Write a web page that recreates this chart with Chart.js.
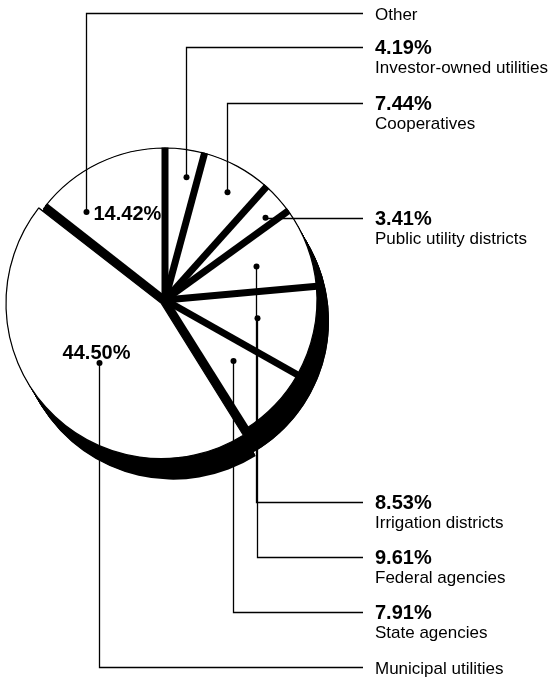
<!DOCTYPE html>
<html>
<head>
<meta charset="utf-8">
<title>Ownership shares</title>
<script src="https://cdn.jsdelivr.net/npm/chart.js@4.4.1/dist/chart.umd.min.js"></script>
<style>
  html, body { margin: 0; padding: 0; background: #fff; }
  canvas { display: block; }
</style>
</head>
<body>
<canvas id="ownershipChart" width="553" height="679"></canvas>
<script>
// slices, clockwise from twelve o'clock
const categories = [
  "Investor-owned utilities",
  "Cooperatives",
  "Public utility districts",
  "Irrigation districts",
  "Federal agencies",
  "State agencies",
  "Municipal utilities",
  "Other"
];
const shares = [4.19, 7.44, 3.41, 8.53, 9.61, 7.91, 44.50, 14.42];

// which slices carry their percent beside the pie instead of in the callout
const inlinePercent = [false, false, false, false, false, false, true, true];

// callout layout: y of each leader's horizontal run, and where its dot sits
// inside the slice as [fraction of the sweep, fraction of the radius]
const leaderY = [47, 103, 218, 502, 557, 612, 667, 13];
const dotSpot = [
  [0.65, 0.82], [0.56, 0.82], [0.70, 0.85], [0.51, 0.64],
  [0.47, 0.62], [0.44, 0.60], [0.49, 0.57], [0.19, 0.78]
];
const explode = [0, 0, 0, 0, 0, 0, 5, 0];

const FONT = '"Liberation Sans", Arial, Helvetica, sans-serif';
const depth = { x: 12, y: 21 };   // how far the pie's body drops behind the faces
const labelX = 375;
const leaderEnd = 363;

function sliceShift(arc) {
  const off = (arc.options.offset || 0) / 4;
  const mid = (arc.startAngle + arc.endAngle) / 2;
  const fix = 1 - Math.sin(Math.min(Math.PI, arc.circumference));
  return { x: Math.cos(mid) * off, y: Math.sin(mid) * off, r: arc.outerRadius + off * fix };
}

// black body of the pie: the whole disc plus each slice, swept down-right
const pieDepth = {
  id: "pieDepth",
  beforeDatasetsDraw(chart) {
    const ctx = chart.ctx;
    const arcs = chart.getDatasetMeta(0).data;
    if (!arcs.length) return;
    ctx.save();
    ctx.fillStyle = "#000";
    const base = arcs[0];
    for (let t = 0; t <= 1.0001; t += 1 / 24) {
      ctx.beginPath();
      ctx.arc(base.x + depth.x * t, base.y + depth.y * t, base.outerRadius, 0, Math.PI * 2);
      ctx.fill();
    }
    arcs.forEach(arc => {
      const s = sliceShift(arc);
      for (let t = 0; t <= 1.0001; t += 1 / 24) {
        const cx = arc.x + s.x + depth.x * t;
        const cy = arc.y + s.y + depth.y * t;
        ctx.beginPath();
        ctx.moveTo(cx, cy);
        ctx.arc(cx, cy, s.r, arc.startAngle, arc.endAngle);
        ctx.closePath();
        ctx.fill();
      }
    });
    ctx.restore();
  }
};

// heavy rules between slices, then the leaders and labels
const callouts = {
  id: "callouts",
  afterDatasetsDraw(chart) {
    const ctx = chart.ctx;
    const arcs = chart.getDatasetMeta(0).data;
    ctx.save();

    ctx.strokeStyle = "#000";
    ctx.lineWidth = 7;
    ctx.lineCap = "butt";
    arcs.forEach(arc => {
      ctx.beginPath();
      ctx.moveTo(arc.x, arc.y);
      ctx.lineTo(arc.x + Math.cos(arc.startAngle) * (arc.outerRadius + 0.5),
                 arc.y + Math.sin(arc.startAngle) * (arc.outerRadius + 0.5));
      ctx.stroke();
    });

    arcs.forEach((arc, i) => {
      const s = sliceShift(arc);
      const a = arc.startAngle + dotSpot[i][0] * (arc.endAngle - arc.startAngle);
      const px = Math.round(arc.x + s.x + Math.cos(a) * dotSpot[i][1] * arc.outerRadius) + 0.5;
      const py = arc.y + s.y + Math.sin(a) * dotSpot[i][1] * arc.outerRadius;
      const ly = leaderY[i] + 0.5;

      ctx.lineWidth = 1.3;
      ctx.beginPath();
      ctx.moveTo(px, py);
      ctx.lineTo(px, ly);
      ctx.lineTo(leaderEnd, ly);
      ctx.stroke();

      ctx.fillStyle = "#000";
      ctx.beginPath();
      ctx.arc(px, py, 3, 0, Math.PI * 2);
      ctx.fill();

      const pct = shares[i].toFixed(2) + "%";
      ctx.textAlign = "left";
      ctx.textBaseline = "alphabetic";
      if (inlinePercent[i]) {
        ctx.font = "bold 20px " + FONT;
        if (py < arc.y) {
          ctx.fillText(pct, px + 7, py + 8);
        } else {
          ctx.textAlign = "center";
          ctx.fillText(pct, px - 3, py - 4);
          ctx.textAlign = "left";
        }
        ctx.font = "17px " + FONT;
        ctx.fillText(categories[i], labelX, leaderY[i] + 7);
      } else {
        ctx.font = "bold 20px " + FONT;
        ctx.fillText(pct, labelX, leaderY[i] + 7);
        ctx.font = "17px " + FONT;
        ctx.fillText(categories[i], labelX, leaderY[i] + 26);
      }
    });

    ctx.restore();
  }
};

const config = {
  type: "pie",
  data: {
    labels: categories,
    datasets: [
      {
        data: shares,
        backgroundColor: "#fff",
        borderColor: "#000",
        borderWidth: 1.2,
        offset: explode.map(e => e * 4),
      }
    ],
  },
  options: {
    responsive: false,
    animation: false,
    radius: 152,
    layout: { padding: { left: 0, top: 0, right: 223, bottom: 79 } },
    plugins: {
      legend: { display: false },
      tooltip: { enabled: false },
    },
  },
  plugins: [pieDepth, callouts],
};

const ownershipChart = new Chart(document.getElementById("ownershipChart"), config);
</script>
</body>
</html>
